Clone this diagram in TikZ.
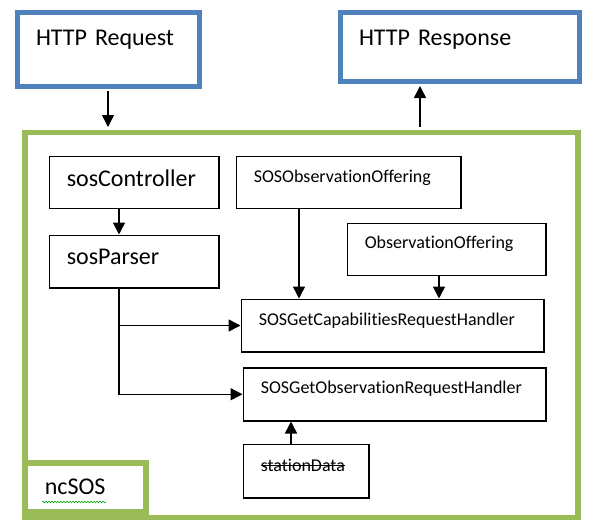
\documentclass[tikz,border=0pt]{standalone}
\usepackage{fontspec}
\setmainfont{Carlito}[Ligatures={NoCommon,NoRare,NoContextual}]
\usetikzlibrary{positioning,arrows.meta,decorations.pathmorphing}
\definecolor{reqblue}{HTML}{4F81BD}
\definecolor{sosgreen}{HTML}{9BBB59}
\newcommand\strikeword[1]{\setbox0\hbox{#1}\rlap{\rule[0.27em]{\wd0}{0.06em}}\box0}

\begin{document}
\begin{tikzpicture}[
        x=1pt, y=-1pt,
        io/.style={draw=reqblue, line width=5pt, inner xsep=19pt, inner ysep=0pt, anchor=north west, align=left, font=\fontsize{24}{24}\selectfont},
        grp/.style={draw=sosgreen, line width=5.5pt, inner sep=0pt, anchor=north west},
        cls/.style={draw, line width=1.5pt, inner xsep=17.5pt, inner ysep=0pt, anchor=north west, align=left},
        big/.style={font=\fontsize{24}{24}\selectfont},
        small/.style={font=\fontsize{18}{18}\selectfont},
        msg/.style={line width=1.5pt, -{Triangle[length=12pt,width=12pt]}},
        edge/.style={msg, shorten <=2.5pt, shorten >=2.5pt}
    ]
        \useasboundingbox (0,0) rectangle (593,530);

        % Request / response (top boxes)
        \node[io, text width=144pt, minimum height=74pt, text height=15pt, text depth=22pt] (hreq) at (14.5,9.5) {HTTP Request};
        \node[io, text width=201pt, minimum height=69pt, text height=15pt, text depth=17pt] (hres) at (337.5,9.5) {HTTP Response};

        % ncSOS frame
        \node[grp, minimum width=553pt, minimum height=385pt] (ncsos) at (22,129.5) {};
        \node[grp, anchor=south west, minimum width=121pt, minimum height=49pt, inner xsep=20pt, text width=81pt, align=left,
              text height=20pt, text depth=6pt, big] (lb) at (22,514.5) {ncSOS};
        \draw[green!65!black, line width=0.6pt, decorate, decoration={snake, amplitude=0.8pt, segment length=3pt}] (42,502) -- (106,502);

        % Classes
        \node[cls, big, text width=134.5pt, minimum height=52pt, text height=16pt, text depth=8pt] (sc) at (48.5,155.5) {sosController};
        \node[cls, big, text width=134.5pt, minimum height=52.5pt, text height=16pt, text depth=9.5pt] (sp) at (48.5,234.5) {sosParser};
        \node[cls, small, text width=189.5pt, minimum height=52pt, text height=12pt, text depth=11pt] (so) at (235.5,155.5) {SOSObservationOffering};
        \node[cls, small, text width=163.5pt, minimum height=52pt, text height=12pt, text depth=13pt] (oo) at (346.5,222.5) {ObservationOffering};
        \node[cls, small, text width=267.5pt, minimum height=52.5pt, text height=12pt, text depth=13pt] (gc) at (240.5,298.5) {SOSGetCapabilitiesRequestHandler};
        \node[cls, small, text width=267.5pt, minimum height=53pt, text height=12pt, text depth=13pt] (go) at (242.5,367) {SOSGetObservationRequestHandler};
        \node[cls, small, text width=90.5pt, minimum height=53.5pt, text height=12pt, text depth=12pt] (sd) at (242.5,443.5) {\strikeword{stationData}};

        % Helper points for off-centre connectors
        \coordinate (out) at ([xshift=82.5pt]hres.south west);
        \coordinate (bus) at ([xshift=70.5pt]sp.south west);
        \coordinate (a1) at ([xshift=63.5pt]so.south west);
        \coordinate (a2) at ([xshift=92.5pt]oo.south west);
        \coordinate (a3) at ([xshift=48.5pt]sd.north west);

        % Connectors
        \draw[edge] (hreq.south) -- (hreq.south |- ncsos.north);
        \draw[edge] (out |- ncsos.north) -- (out);
        \draw[msg] (sc.south -| bus) -- (sp.north -| bus);
        \draw[msg] (bus) |- (go.west);
        \draw[msg] (bus |- gc.west) -- (gc.west);
        \draw[msg] (a1) -- (a1 |- gc.north);
        \draw[msg] (a2) -- (a2 |- gc.north);
        \draw[msg] (a3) -- (a3 |- go.south);
    \end{tikzpicture}
\end{document}
